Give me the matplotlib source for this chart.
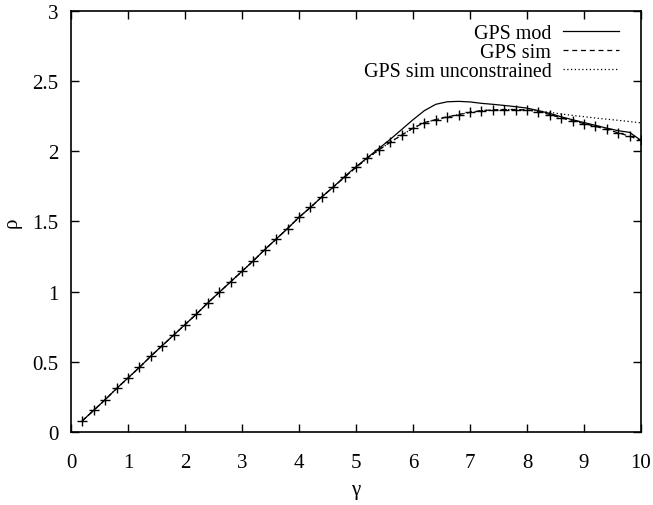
import matplotlib
matplotlib.use("Agg")
import matplotlib.pyplot as plt
from matplotlib.lines import Line2D

gamma = [round(0.2 * i, 1) for i in range(1, 51)]

rho_sim = [0.08, 0.155, 0.23, 0.31, 0.385, 0.46, 0.54, 0.615, 0.69, 0.765,
           0.84, 0.92, 0.995, 1.07, 1.145, 1.22, 1.30, 1.375, 1.45, 1.53,
           1.60, 1.675, 1.745, 1.815, 1.885, 1.95, 2.01, 2.065, 2.115, 2.165,
           2.205, 2.225, 2.245, 2.262, 2.278, 2.29, 2.295, 2.298, 2.298, 2.295,
           2.283, 2.262, 2.238, 2.216, 2.198, 2.178, 2.156, 2.132, 2.108, 2.078]

rho_unc = [0.08, 0.155, 0.23, 0.31, 0.385, 0.46, 0.54, 0.615, 0.69, 0.765,
           0.84, 0.92, 0.995, 1.07, 1.145, 1.22, 1.30, 1.375, 1.45, 1.53,
           1.60, 1.675, 1.745, 1.815, 1.885, 1.95, 2.01, 2.065, 2.115, 2.165,
           2.205, 2.225, 2.245, 2.262, 2.278, 2.29, 2.295, 2.298, 2.298, 2.295,
           2.288, 2.278, 2.266, 2.256, 2.247, 2.237, 2.229, 2.221, 2.212, 2.203]

rho_mod = [0.08, 0.155, 0.23, 0.31, 0.385, 0.46, 0.54, 0.615, 0.69, 0.765,
           0.84, 0.92, 0.995, 1.07, 1.145, 1.22, 1.30, 1.375, 1.45, 1.53,
           1.60, 1.675, 1.745, 1.82, 1.89, 1.955, 2.02, 2.085, 2.155, 2.225,
           2.29, 2.335, 2.353, 2.356, 2.352, 2.342, 2.335, 2.327, 2.318, 2.308,
           2.29, 2.27, 2.246, 2.225, 2.205, 2.185, 2.165, 2.147, 2.135, 2.078]

xticks = [0, 1, 2, 3, 4, 5, 6, 7, 8, 9, 10]
yticks = [0, 0.5, 1, 1.5, 2, 2.5, 3]
yticklabels = ["0", "0.5", "1", "1.5", "2", "2.5", "3"]

plt.rcParams['font.family'] = ['Liberation Serif', 'DejaVu Serif']
plt.rcParams['font.size'] = 15

fig = plt.figure(figsize=(6.53, 5.06), dpi=100)
ax = fig.add_axes([0.1087, 0.1443, 0.8729, 0.832])

ax.plot(gamma, rho_mod, color='black', lw=0.9, ls='-', label='GPS mod')
ax.plot(gamma, rho_sim, color='black', lw=0.9, ls=(0, (4, 3)), marker='+',
        markersize=7, markeredgewidth=1.0, label='GPS sim')
ax.plot(gamma, rho_unc, color='black', lw=0.9, ls=(0, (1, 2)),
        label='GPS sim unconstrained')

ax.set_xlim(0, 10)
ax.set_ylim(0, 3)
ax.set_xticks(xticks)
ax.set_xticklabels([str(t) for t in xticks])
ax.set_yticks(yticks)
ax.set_yticklabels(yticklabels)
ax.tick_params(direction='in', length=6, width=1.0, top=True, right=True,
               labelsize=15)
ax.tick_params(axis='x', pad=15)
ax.tick_params(axis='y', pad=9)
for s in ax.spines.values():
    s.set_linewidth(1.2)

ax.set_xlabel('γ', fontsize=15, labelpad=6)
ax.set_ylabel('ρ', fontsize=15, labelpad=8)

leg = ax.legend(loc='upper right', frameon=False, markerfirst=False,
                handlelength=2.8, fontsize=14.4, labelspacing=-0.02,
                borderaxespad=0.0, handletextpad=0.6,
                bbox_to_anchor=(0.976, 0.987))
for h in leg.legend_handles:
    if isinstance(h, Line2D):
        h.set_marker('')
for t in leg.get_texts():
    t.set_ha('right')
leg._legend_box.align = 'right'

fig.savefig('out.png', dpi=100)
